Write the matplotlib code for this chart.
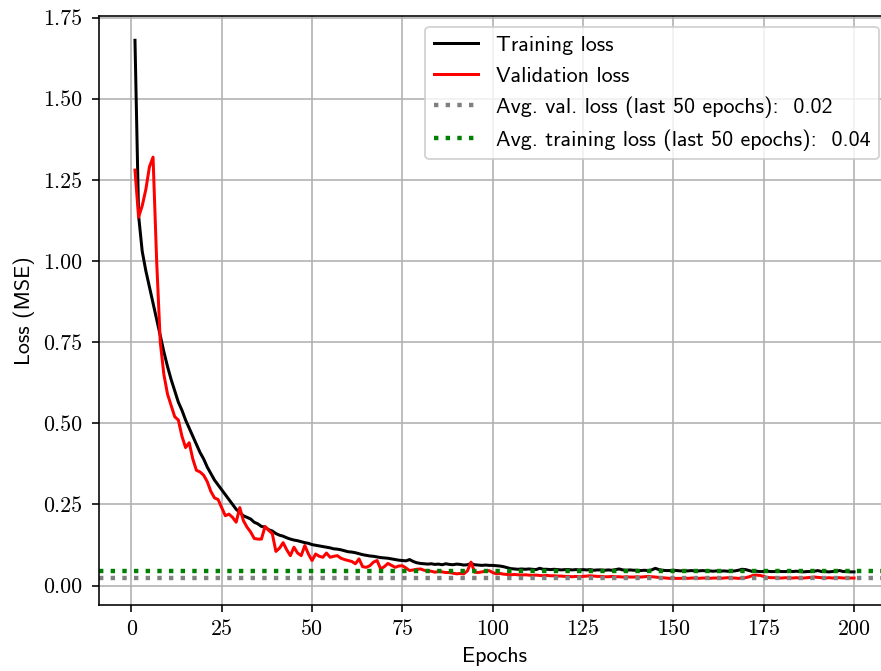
import numpy as np
import matplotlib
matplotlib.use("Agg")
import matplotlib.pyplot as plt

# per-epoch losses (MSE)
train_loss = [
    1.68, 1.14, 1.03, 0.97, 0.92, 0.87, 0.82, 0.77, 0.72, 0.675,
    0.635, 0.60, 0.565, 0.54, 0.51, 0.485, 0.46, 0.435, 0.41, 0.39,
    0.365, 0.345, 0.325, 0.31, 0.295, 0.28, 0.265, 0.25, 0.235, 0.225,
    0.215, 0.21, 0.205, 0.195, 0.19, 0.182, 0.18, 0.172, 0.168, 0.16,
    0.155, 0.152, 0.147, 0.143, 0.14, 0.138, 0.135, 0.132, 0.13, 0.126,
    0.124, 0.122, 0.12, 0.118, 0.116, 0.113, 0.112, 0.11, 0.107, 0.104,
    0.103, 0.101, 0.098, 0.095, 0.093, 0.091, 0.09, 0.088, 0.086, 0.085,
    0.084, 0.082, 0.08, 0.078, 0.077, 0.076, 0.08, 0.074, 0.07, 0.068,
    0.067, 0.066, 0.067, 0.065, 0.066, 0.064, 0.067, 0.065, 0.064, 0.066,
    0.065, 0.063, 0.064, 0.068, 0.064, 0.063, 0.062, 0.063, 0.062, 0.062,
    0.061, 0.06, 0.058, 0.055, 0.052, 0.051, 0.05, 0.051, 0.05, 0.051,
    0.05, 0.049, 0.053, 0.05, 0.05, 0.049, 0.05, 0.049, 0.048, 0.049,
    0.049, 0.048, 0.049, 0.048, 0.049, 0.048, 0.049, 0.047, 0.048, 0.048,
    0.047, 0.048, 0.047, 0.049, 0.051, 0.048, 0.047, 0.048, 0.047, 0.047,
    0.046, 0.047, 0.046, 0.048, 0.053, 0.049, 0.047, 0.046, 0.046, 0.047,
    0.046, 0.045, 0.046, 0.045, 0.046, 0.045, 0.045, 0.046, 0.045, 0.045,
    0.044, 0.045, 0.044, 0.045, 0.044, 0.044, 0.045, 0.047, 0.05, 0.049,
    0.046, 0.043, 0.044, 0.043, 0.043, 0.044, 0.043, 0.043, 0.044, 0.043,
    0.043, 0.044, 0.043, 0.044, 0.043, 0.042, 0.043, 0.043, 0.044, 0.046,
    0.043, 0.043, 0.042, 0.043, 0.044, 0.046, 0.043, 0.043, 0.042, 0.042,
]

val_loss = [
    1.28, 1.135, 1.17, 1.22, 1.29, 1.32, 1.00, 0.75, 0.65, 0.59,
    0.555, 0.52, 0.51, 0.46, 0.425, 0.44, 0.39, 0.355, 0.35, 0.34,
    0.32, 0.29, 0.27, 0.265, 0.24, 0.215, 0.22, 0.21, 0.195, 0.24,
    0.2, 0.18, 0.165, 0.145, 0.143, 0.143, 0.182, 0.17, 0.16, 0.105,
    0.115, 0.132, 0.11, 0.092, 0.118, 0.1, 0.092, 0.123, 0.097, 0.077,
    0.097, 0.09, 0.087, 0.1, 0.087, 0.09, 0.092, 0.084, 0.08, 0.077,
    0.074, 0.067, 0.082, 0.058, 0.056, 0.061, 0.072, 0.077, 0.051, 0.058,
    0.068, 0.062, 0.056, 0.06, 0.061, 0.054, 0.046, 0.048, 0.05, 0.051,
    0.047, 0.045, 0.044, 0.041, 0.043, 0.042, 0.04, 0.04, 0.038, 0.036,
    0.037, 0.036, 0.045, 0.072, 0.041, 0.04, 0.042, 0.044, 0.046, 0.04,
    0.036, 0.037, 0.035, 0.034, 0.033, 0.034, 0.033, 0.032, 0.033, 0.032,
    0.031, 0.032, 0.031, 0.03, 0.031, 0.03, 0.03, 0.029, 0.029, 0.028,
    0.028, 0.027, 0.028, 0.027, 0.028, 0.029, 0.03, 0.029, 0.028, 0.028,
    0.027, 0.027, 0.028, 0.027, 0.027, 0.026, 0.027, 0.026, 0.026, 0.027,
    0.026, 0.027, 0.028, 0.027, 0.026, 0.025, 0.024, 0.023, 0.022, 0.022,
    0.022, 0.022, 0.023, 0.022, 0.023, 0.023, 0.022, 0.023, 0.023, 0.022,
    0.023, 0.023, 0.022, 0.023, 0.024, 0.023, 0.023, 0.022, 0.023, 0.024,
    0.027, 0.031, 0.032, 0.031, 0.028, 0.025, 0.024, 0.024, 0.023, 0.023,
    0.024, 0.023, 0.023, 0.024, 0.023, 0.023, 0.024, 0.025, 0.026, 0.025,
    0.024, 0.023, 0.024, 0.023, 0.024, 0.024, 0.023, 0.023, 0.023, 0.023,
]

epochs = np.arange(1, len(train_loss) + 1)
last_n = 50
avg_val = np.mean(val_loss[-last_n:])
avg_train = np.mean(train_loss[-last_n:])

fs = 11
dpi = 144
fig = plt.figure(figsize=(881 / dpi, 671 / dpi), dpi=dpi)
ax = fig.add_axes([0.1124, 0.0984, 0.8978, 0.8778])

ax.plot(epochs, train_loss, color="black", lw=1.5, label="Training loss")
ax.plot(epochs, val_loss, color="red", lw=1.5, label="Validation loss")
ax.axhline(avg_val, color="gray", ls=":", lw=2.2,
           label="Avg. val. loss (last %d epochs):  %.2f" % (last_n, avg_val))
ax.axhline(avg_train, color="green", ls=":", lw=2.2,
           label="Avg. training loss (last %d epochs):  %.2f" % (last_n, avg_train))

ax.set_xlim(-8.95, 209.95)
ax.set_ylim(-0.06, 1.755)
ax.set_xticks(np.arange(0, 201, 25))
ax.set_yticks(np.arange(0, 1.76, 0.25))
ax.set_yticklabels(["%.2f" % v for v in np.arange(0, 1.76, 0.25)])
ax.tick_params(axis="y", pad=5)
for lbl in ax.get_xticklabels() + ax.get_yticklabels():
    lbl.set_family("cmr10")
    lbl.set_fontsize(fs)

ax.set_xlabel("Epochs", family="cmss10", fontsize=fs)
ax.set_ylabel("Loss (MSE)", family="cmss10", fontsize=fs)
ax.grid(True)
ax.legend(loc="upper right", prop={"family": "cmss10", "size": fs})

fig.savefig("out.png", dpi=dpi)
